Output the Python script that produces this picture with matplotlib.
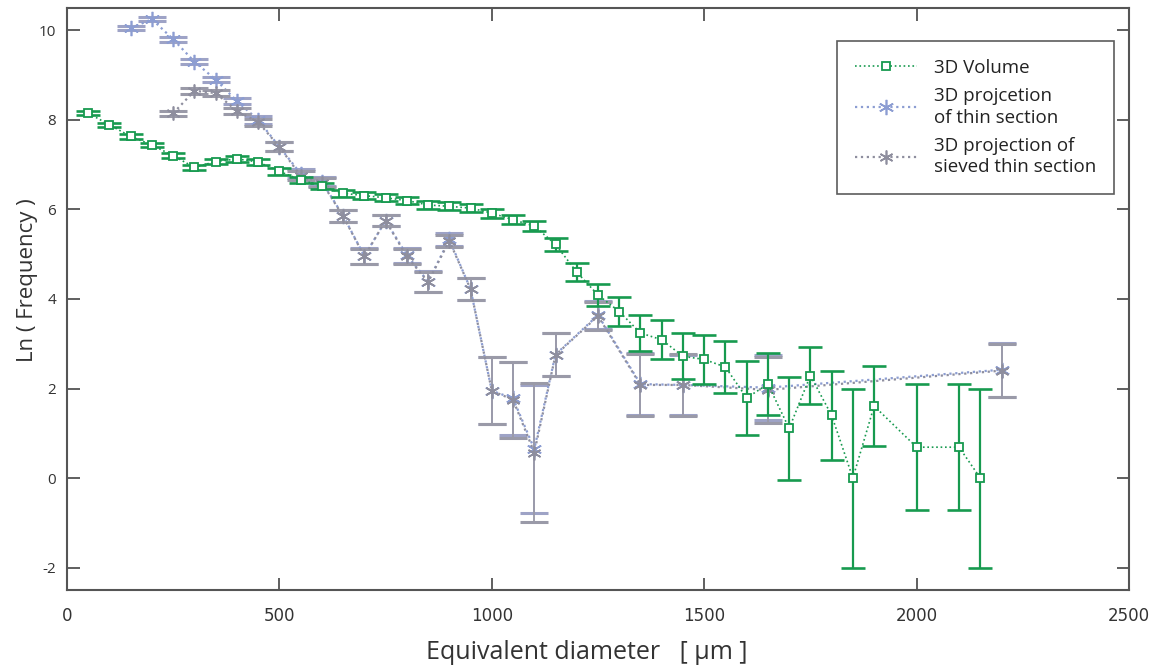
import matplotlib
matplotlib.use("Agg")
import matplotlib.pyplot as plt

# ---------------- data ----------------
vol_x = [50, 100, 150, 200, 250, 300, 350, 400, 450, 500, 550, 600, 650, 700, 750, 800, 850, 900,
         950, 1000, 1050, 1100, 1150, 1200, 1250, 1300, 1350, 1400, 1450, 1500, 1550, 1600, 1650,
         1700, 1750, 1800, 1850, 1900, 2000, 2100, 2150]
vol_y = [8.15, 7.89, 7.63, 7.44, 7.2, 6.94, 7.07, 7.13, 7.06, 6.85, 6.66, 6.52, 6.36, 6.31, 6.26,
         6.2, 6.1, 6.07, 6.03, 5.92, 5.77, 5.63, 5.22, 4.6, 4.09, 3.72, 3.24, 3.09, 2.72, 2.65,
         2.48, 1.79, 2.1, 1.11, 2.29, 1.4, 0.0, 1.61, 0.69, 0.69, 0.0]
vol_err = [0.05, 0.05, 0.05, 0.05, 0.06, 0.06, 0.06, 0.06, 0.06, 0.07, 0.07, 0.07, 0.08, 0.08,
           0.08, 0.08, 0.09, 0.09, 0.09, 0.1, 0.1, 0.11, 0.15, 0.2, 0.25, 0.32, 0.4, 0.43, 0.51,
           0.54, 0.58, 0.82, 0.7, 1.15, 0.63, 1.0, 2.0, 0.9, 1.41, 1.41, 2.0]

thin_x = [150, 200, 250, 300, 350, 400, 450, 500, 550, 600, 650, 700, 750, 800, 850, 900, 950,
          1000, 1050, 1100, 1150, 1250, 1350, 1450, 1650, 2200]
thin_y = [10.05, 10.25, 9.8, 9.3, 8.9, 8.42, 8.0, 7.4, 6.8, 6.62, 5.86, 4.96, 5.75, 4.98, 4.39,
          5.33, 4.22, 1.95, 1.78, 0.65, 2.76, 3.64, 2.1, 2.08, 2.02, 2.42]
thin_err = [0.05, 0.05, 0.06, 0.06, 0.06, 0.07, 0.08, 0.1, 0.1, 0.1, 0.13, 0.17, 0.12, 0.17,
            0.23, 0.14, 0.25, 0.75, 0.82, 1.42, 0.48, 0.32, 0.7, 0.68, 0.72, 0.6]

sieved_x = [250, 300, 350, 400, 450, 500, 550, 600, 650, 700, 750, 800, 850, 900, 950, 1000,
            1050, 1100, 1150, 1250, 1350, 1450, 1650, 2200]
sieved_y = [8.15, 8.65, 8.6, 8.2, 7.95, 7.4, 6.75, 6.6, 5.85, 4.95, 5.75, 4.95, 4.38, 5.3, 4.22,
            1.95, 1.75, 0.57, 2.75, 3.62, 2.08, 2.08, 1.97, 2.4]
sieved_err = [0.06, 0.06, 0.06, 0.07, 0.08, 0.1, 0.1, 0.1, 0.13, 0.17, 0.12, 0.17, 0.23, 0.14,
              0.25, 0.75, 0.85, 1.55, 0.48, 0.32, 0.7, 0.7, 0.74, 0.6]

labels = ["3D Volume", "3D projcetion\nof thin section", "3D projection of\nsieved thin section"]
x_ticks = [0, 500, 1000, 1500, 2000, 2500]
y_ticks = [-2, 0, 2, 4, 6, 8, 10]

GREEN = "#179a4f"
BLUE = "#8c9dd2"
GRAY = "#8e8e9e"
BLUE_ERR = "#9ea3c6"
GRAY_ERR = "#9a9aa8"

fig = plt.figure(figsize=(11.59, 6.70), dpi=100)
ax = fig.add_axes([67 / 1159, 1 - 590 / 670, (1129 - 67) / 1159, (590 - 8) / 670])

asterisk = (6, 2, 0)

# blue (thin section)
ax.errorbar(thin_x, thin_y, yerr=thin_err, fmt="none", ecolor=BLUE_ERR, elinewidth=1.3,
            capsize=10, capthick=2.2, zorder=2)
ln1, = ax.plot(thin_x, thin_y, linestyle=":", color=BLUE, lw=1.6, marker=asterisk, markersize=11,
               markeredgewidth=1.2, markeredgecolor=BLUE, zorder=3)

# gray (sieved)
ax.errorbar(sieved_x, sieved_y, yerr=sieved_err, fmt="none", ecolor=GRAY_ERR, elinewidth=1.3,
            capsize=10, capthick=2.2, zorder=4)
ln2, = ax.plot(sieved_x, sieved_y, linestyle=":", color=GRAY, lw=1.6, marker=asterisk,
               markersize=10, markeredgewidth=1.2, markeredgecolor=GRAY, zorder=5)

# green (3D volume)
ax.errorbar(vol_x, vol_y, yerr=vol_err, fmt="none", ecolor=GREEN, elinewidth=1.6,
            capsize=8.5, capthick=1.9, zorder=6)
ln3, = ax.plot(vol_x, vol_y, linestyle=":", color=GREEN, lw=1.2, marker="s", markersize=6,
               markerfacecolor="white", markeredgecolor=GREEN, markeredgewidth=1.3, zorder=7)

ax.set_xlim(0, 2500)
ax.set_ylim(-2.5, 10.5)
ax.set_xticks(x_ticks)
ax.set_yticks(y_ticks)
ax.set_xticklabels([str(v) for v in x_ticks], fontsize=12, family="Liberation Sans Narrow")
ax.set_yticklabels([str(v) for v in y_ticks], fontsize=11, family="Open Sans")
ax.tick_params(direction="in", length=9, width=1.2, color="#444444", top=True, right=True,
               labelcolor="#333333")
ax.tick_params(axis="x", pad=12)
ax.tick_params(axis="y", pad=8)
for s in ax.spines.values():
    s.set_color("#555555")
    s.set_linewidth(1.5)

ax.set_xlabel("Equivalent diameter   [ μm ]", fontsize=18, family="Open Sans", color="#333333")
ax.xaxis.set_label_coords(0.489, -0.086)
ax.set_ylabel("Ln ( Frequency )", fontsize=16, family="Open Sans", color="#333333")
ax.yaxis.set_label_coords(-0.027, 0.533)

leg = ax.legend([ln3, ln1, ln2], labels,
                loc="upper right", bbox_to_anchor=((1114 - 67) / 1062, (590 - 41) / 582),
                frameon=True, fancybox=False, edgecolor="#333333",
                handlelength=3.3, labelspacing=0.55, borderpad=0.95, handletextpad=0.9,
                borderaxespad=0.0, prop={"family": "Open Sans", "size": 13.5})
leg.get_frame().set_linewidth(1.2)
for t in leg.get_texts():
    t.set_color("#222222")
    t.set_linespacing(1.25)

fig.savefig("out.png", dpi=100, facecolor="white")
